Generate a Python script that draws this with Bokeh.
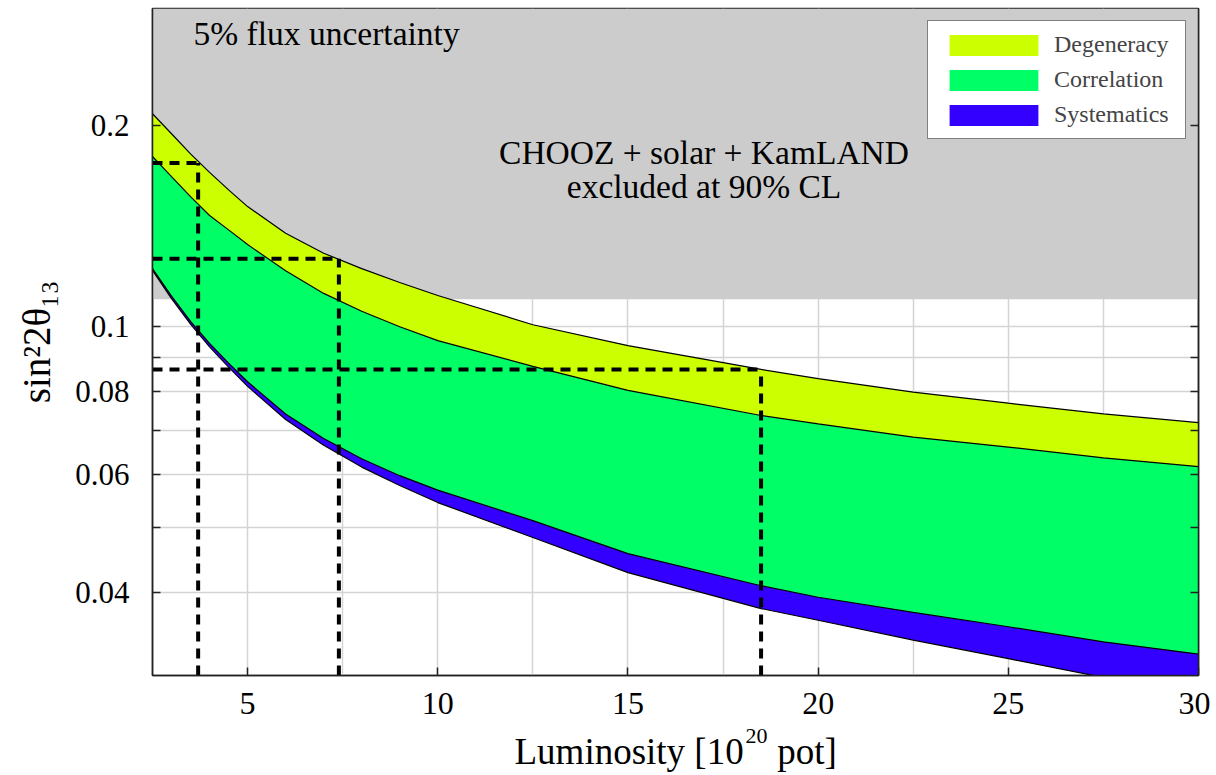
import numpy as np
from bokeh.plotting import figure
from bokeh.models import (Range1d, FixedTicker, CustomJSTickFormatter, LogAxis, LinearAxis,
                          Label, Legend, LegendItem)
from bokeh.embed import file_html
from bokeh.resources import INLINE

# ---------------- data ----------------
luminosity = [2.5, 3, 3.5, 4, 4.5, 5, 6, 7, 8, 9, 10, 12.5, 15, 18.5, 20, 22.5, 25, 27.5, 30]
degeneracy_upper = [0.2086, 0.1947, 0.1816, 0.1704, 0.1604, 0.1514, 0.1381, 0.1289, 0.1222,
                    0.1165, 0.1114, 0.1007, 0.0937, 0.0863, 0.0836, 0.0798, 0.0768, 0.0740, 0.0718]
correlation_upper = [0.1800, 0.1679, 0.1567, 0.1468, 0.1397, 0.1328, 0.1213, 0.1122, 0.1055,
                     0.1000, 0.0953, 0.0872, 0.0803, 0.0736, 0.0715, 0.0683, 0.0660, 0.0636, 0.0617]
systematics_upper = [0.1222, 0.1112, 0.1019, 0.0944, 0.0882, 0.0827, 0.0740, 0.0680, 0.0634,
                     0.0598, 0.0569, 0.0512, 0.0457, 0.0409, 0.0393, 0.0373, 0.0355, 0.0337, 0.0323]
systematics_lower = [0.1215, 0.1102, 0.1009, 0.0933, 0.0870, 0.0814, 0.0726, 0.0664, 0.0616,
                     0.0578, 0.0545, 0.0483, 0.0428, 0.0378, 0.0363, 0.0339, 0.0318, 0.0298, 0.0280]

# reach markers (dashed lines)
reach_luminosity = [3.7, 7.4, 18.5]
reach_sin2 = [0.176, 0.1264, 0.0863]

excluded_limit = 0.11  # CHOOZ + solar + KamLAND 90% CL

x_ticks = [5, 10, 15, 20, 25, 30]
x_grid = [5, 7.5, 10, 12.5, 15, 17.5, 20, 22.5, 25, 27.5]
y_tick_values = [0.04, 0.05, 0.06, 0.07, 0.08, 0.09, 0.1, 0.2]
y_tick_labels = ["0.04", "", "0.06", "", "0.08", "", "0.1", "0.2"]

band_names = ["Degeneracy", "Correlation", "Systematics"]
band_colors = ["#ccff00", "#00ff66", "#3300ff"]

# x-axis title pieces (main text and superscript) and where they sit
x_title_texts = ["Luminosity [10", "pot]"]
x_title_at = [15.03, 19.71]
x_title_sup = ["20"]
x_title_sup_at = [18.38]

x_min, x_max = 2.5, 30
y_min, y_max = 0.03, 0.3

FONT = "Liberation Serif"

p = figure(width=1210, height=775, y_axis_type="log",
           x_range=Range1d(x_min, x_max), y_range=Range1d(y_min, y_max),
           output_backend="svg", toolbar_location=None,
           min_border_left=152, min_border_right=12, min_border_top=8,
           min_border_bottom=100)

p.background_fill_color = "white"
p.border_fill_color = "white"
p.outline_line_color = "#222222"
p.outline_line_width = 1.5

# grids
p.xgrid.ticker = FixedTicker(ticks=x_grid)
p.ygrid.ticker = FixedTicker(ticks=y_tick_values)
for g in (p.xgrid, p.ygrid):
    g.grid_line_color = "#d4d4d4"
    g.grid_line_width = 1.5

# excluded region
p.varea(x=[x_min, x_max], y1=[excluded_limit, excluded_limit], y2=[y_max, y_max],
        fill_color="#cccccc")

# bands
r_deg = p.varea(x=luminosity, y1=correlation_upper, y2=degeneracy_upper,
                fill_color=band_colors[0])
r_cor = p.varea(x=luminosity, y1=systematics_upper, y2=correlation_upper,
                fill_color=band_colors[1])
r_sys = p.varea(x=luminosity, y1=systematics_lower, y2=systematics_upper,
                fill_color=band_colors[2])

for curve in (degeneracy_upper, correlation_upper, systematics_upper, systematics_lower):
    p.line(luminosity, curve, line_color="black", line_width=1.2)

# dashed reach lines
p.segment(x0=[x_min] * len(reach_luminosity), y0=reach_sin2,
          x1=reach_luminosity, y1=reach_sin2,
          line_color="black", line_width=4, line_dash="10 7")
p.segment(x0=reach_luminosity, y0=[y_min] * len(reach_luminosity),
          x1=reach_luminosity, y1=reach_sin2,
          line_color="black", line_width=4, line_dash="10 7")

# axes
xa = p.xaxis[0]
xa.ticker = FixedTicker(ticks=x_ticks)
xa.major_label_standoff = 17

ya = p.yaxis[0]
ya.ticker = FixedTicker(ticks=y_tick_values)
ya.formatter = CustomJSTickFormatter(args=dict(vals=y_tick_values, labs=y_tick_labels), code="""
for (let i = 0; i < vals.length; i++) { if (Math.abs(tick - vals[i]) < 1e-9) return labs[i]; }
return "";
""")
ya.axis_label = "sin²2θ₁₃"
ya.major_label_standoff = 23
ya.axis_label_standoff = 14

ra = LogAxis(ticker=FixedTicker(ticks=y_tick_values),
             formatter=CustomJSTickFormatter(code="return '';"))
p.add_layout(ra, "right")

for ax in (xa, ya, ra):
    ax.axis_line_color = "#222222"
    ax.axis_line_width = 1.5
    ax.major_tick_in = 8
    ax.major_tick_out = 0
    ax.major_tick_line_color = "#222222"
    ax.major_tick_line_width = 1.5
    ax.minor_tick_line_color = None
    ax.major_label_text_font = FONT
    ax.major_label_text_font_size = "31px"
    ax.major_label_text_color = "black"
    ax.axis_label_text_font = FONT
    ax.axis_label_text_font_size = "39px"
    ax.axis_label_text_font_style = "normal"
    ax.axis_label_text_color = "black"
xa.major_label_text_font_size = "32px"

# x-axis title with a real superscript: two extra, line-less axes below
ax_sup = LinearAxis(ticker=FixedTicker(ticks=x_title_sup_at),
                    formatter=CustomJSTickFormatter(args=dict(labs=x_title_sup),
                                                    code="return labs[index];"))
ax_title = LinearAxis(ticker=FixedTicker(ticks=x_title_at),
                      formatter=CustomJSTickFormatter(args=dict(labs=x_title_texts),
                                                      code="return labs[index];"))
for ax, size, standoff in ((ax_sup, "22px", 12), (ax_title, "37px", -15)):
    ax.axis_line_color = None
    ax.major_tick_line_color = None
    ax.minor_tick_line_color = None
    ax.major_tick_in = 0
    ax.major_tick_out = 0
    ax.major_label_standoff = standoff
    ax.major_label_text_font = FONT
    ax.major_label_text_font_size = size
    ax.major_label_text_color = "black"
p.add_layout(ax_sup, "below")
p.add_layout(ax_title, "below")

# texts
p.add_layout(Label(x=3.58, y=0.2586, text="5% flux uncertainty", text_font=FONT,
                   text_font_size="33.5px", text_color="black"))
p.add_layout(Label(x=17.0, y=0.1714, text="CHOOZ + solar + KamLAND", text_font=FONT,
                   text_font_size="33.5px", text_align="center", text_color="black"))
p.add_layout(Label(x=17.0, y=0.1524, text="excluded at 90% CL", text_font=FONT,
                   text_font_size="33.5px", text_align="center", text_color="black"))

legend = Legend(items=[LegendItem(label=band_names[0], renderers=[r_deg]),
                       LegendItem(label=band_names[1], renderers=[r_cor]),
                       LegendItem(label=band_names[2], renderers=[r_sys])],
                location="top_right")
legend.margin = 12
legend.padding = 10
legend.spacing = 8
legend.glyph_width = 111
legend.glyph_height = 26
legend.label_standoff = 5
legend.label_width = 121
legend.label_text_font = FONT
legend.label_text_font_size = "24px"
legend.border_line_color = "black"
legend.border_line_width = 1.5
legend.background_fill_color = "white"
legend.background_fill_alpha = 1.0
p.add_layout(legend)

open("out.html", "w").write(file_html(p, INLINE))
